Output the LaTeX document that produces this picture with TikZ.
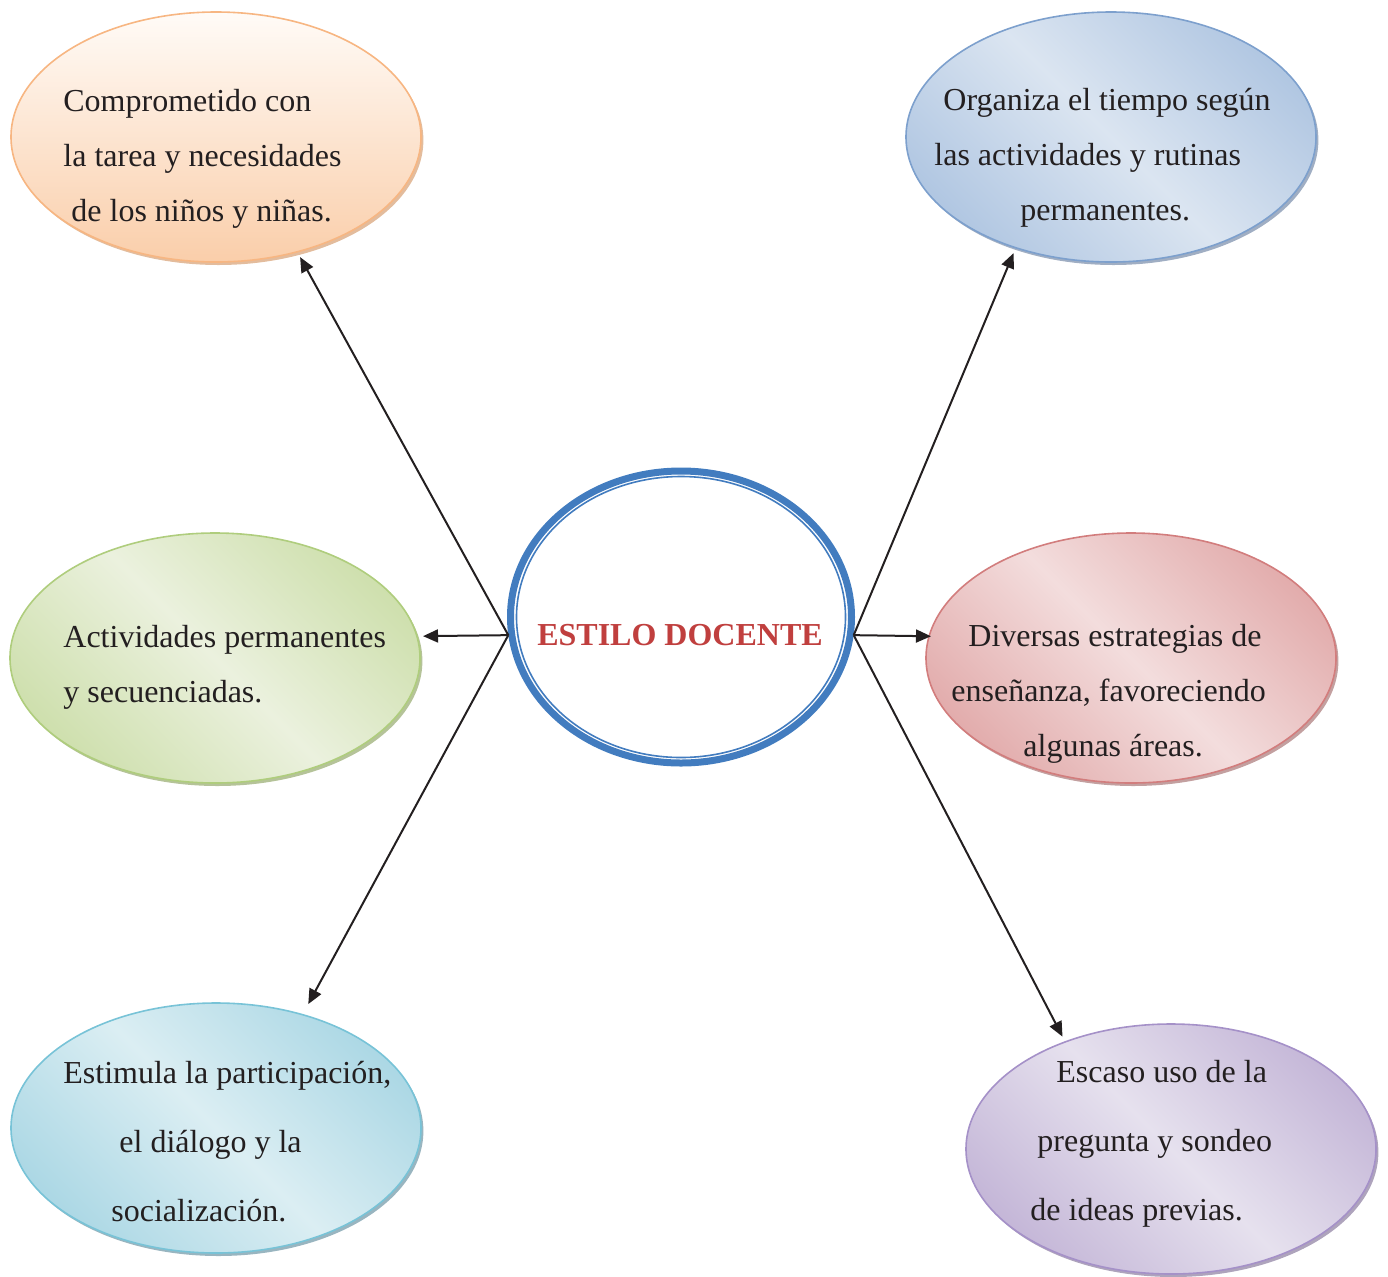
\documentclass[tikz,border=0pt]{standalone}
\usepackage{fontspec}
\setmainfont{Liberation Serif}
\usepackage{xcolor}
\usetikzlibrary{shapes.geometric,shadows,arrows.meta}
\definecolor{docBlue}{RGB}{66, 124, 191}
\definecolor{docRed}{RGB}{192, 63, 62}
\definecolor{inkBlack}{RGB}{35, 31, 32}
\definecolor{orangeLine}{RGB}{247, 182, 130}
\definecolor{orangeTop}{RGB}{255, 251, 247}
\definecolor{orangeBot}{RGB}{250, 206, 170}
\definecolor{orangeShadow}{RGB}{215, 160, 115}
\definecolor{blueLine}{RGB}{125, 160, 205}
\definecolor{blueDark}{RGB}{166, 191, 222}
\definecolor{blueLight}{RGB}{219, 229, 241}
\definecolor{blueShadow}{RGB}{120, 140, 170}
\definecolor{greenLine}{RGB}{175, 205, 125}
\definecolor{greenDark}{RGB}{199, 219, 161}
\definecolor{greenLight}{RGB}{235, 241, 222}
\definecolor{greenShadow}{RGB}{150, 170, 110}
\definecolor{redLine}{RGB}{210, 125, 125}
\definecolor{redDark}{RGB}{222, 160, 160}
\definecolor{redLight}{RGB}{243, 221, 221}
\definecolor{redShadow}{RGB}{170, 120, 120}
\definecolor{cyanLine}{RGB}{120, 195, 215}
\definecolor{cyanDark}{RGB}{160, 210, 225}
\definecolor{cyanLight}{RGB}{219, 238, 243}
\definecolor{cyanShadow}{RGB}{110, 150, 165}
\definecolor{purpleLine}{RGB}{165, 145, 200}
\definecolor{purpleDark}{RGB}{188, 172, 210}
\definecolor{purpleLight}{RGB}{230, 225, 238}
\definecolor{purpleShadow}{RGB}{140, 125, 160}
\colorlet{bubDark}{blueDark}
\colorlet{bubLight}{blueLight}
\pgfdeclarehorizontalshading[bubDark,bubLight]{bubdiag}{100bp}{color(0bp)=(bubDark); color(18bp)=(bubDark); color(50bp)=(bubLight); color(82bp)=(bubDark); color(100bp)=(bubDark)}

\begin{document}
\begin{tikzpicture}[x=0.5pt, y=-0.5pt,
    bubble/.style={ellipse,draw=#1Line,line width=0.8pt,minimum width=205pt,minimum height=125pt,outer sep=3pt,
        drop shadow={shadow xshift=1.2pt,shadow yshift=-1.5pt,fill=#1Shadow,opacity=0.7}},
    diag/.style={/utils/exec={\colorlet{bubDark}{#1Dark}\colorlet{bubLight}{#1Light}},shading=bubdiag,shading angle=45},
    txt/.style={anchor=base west,align=left,inner sep=0pt,text=inkBlack,font=\fontsize{16}{27.5}\selectfont},
    wide/.style={font=\fontsize{16}{34.5}\selectfont},
    link/.style={-{Triangle[length=7.5pt,width=6.5pt]},line width=1pt,draw=inkBlack}]
            \useasboundingbox (0,0) rectangle (1388,1276);

            % Left bubbles
            \node[bubble=orange,top color=orangeTop,bottom color=orangeBot] (comp) at (216,137) {};
            \node[txt] (compT) at (63,221) {Comprometido con\\la tarea y necesidades\\\hspace*{4pt}de los niños y niñas.};
            \node[bubble=green,diag=green] (act) at (215,658) {};
            \node[txt] (actT) at (63,702) {Actividades permanentes\\y secuenciadas.};
            \node[bubble=cyan,diag=cyan] (est) at (216,1128) {};
            \node[txt,wide] (estT) at (63,1221) {Estimula la participación,\\\hspace*{28pt}el diálogo y la\\\hspace*{24pt}socialización.};

            % Right bubbles
            \node[bubble=blue,diag=blue] (org) at (1111,137) {};
            \node[txt] (orgT) at (934,220) {\hspace*{4.5pt}Organiza el tiempo según\\las actividades y rutinas\\\hspace*{43pt}permanentes.};
            \node[bubble=red,diag=red] (div) at (1131,658) {};
            \node[txt] (divT) at (951,756) {\hspace*{8.5pt}Diversas estrategias de\\enseñanza, favoreciendo\\\hspace*{36pt}algunas áreas.};
            \node[bubble=purple,diag=purple] (esc) at (1171,1149) {};
            \node[txt,wide] (escT) at (1030,1220) {\hspace*{13pt}Escaso uso de la\\\hspace*{3.5pt}pregunta y sondeo\\de ideas previas.};

            % ESTILO DOCENTE
            \node[ellipse,draw=docBlue,line width=3.5pt,fill=white,minimum width=170.5pt,minimum height=146pt] (estilo) at (681,617) {};
            \node[ellipse,draw=docBlue,line width=0.8pt,minimum width=164.5pt,minimum height=140.5pt] (estiloIn) at (estilo) {};
            \node[anchor=base,font=\fontsize{16}{19}\selectfont\bfseries,text=docRed] (estiloT) at (680,645) {ESTILO DOCENTE};

            % Arrows
            \draw[link] (estilo.186) -- (comp.305);
            \draw[link] (estilo.186) -- (act.6);
            \draw[link,shorten >=3pt] (estilo.186) -- (est.53);
            \draw[link] (estilo.354) -- (org.230);
            \draw[link,shorten >=-4pt] (estilo.354) -- (div.174);
            \draw[link] (estilo.354) -- (esc.134);
        \end{tikzpicture}
\end{document}
